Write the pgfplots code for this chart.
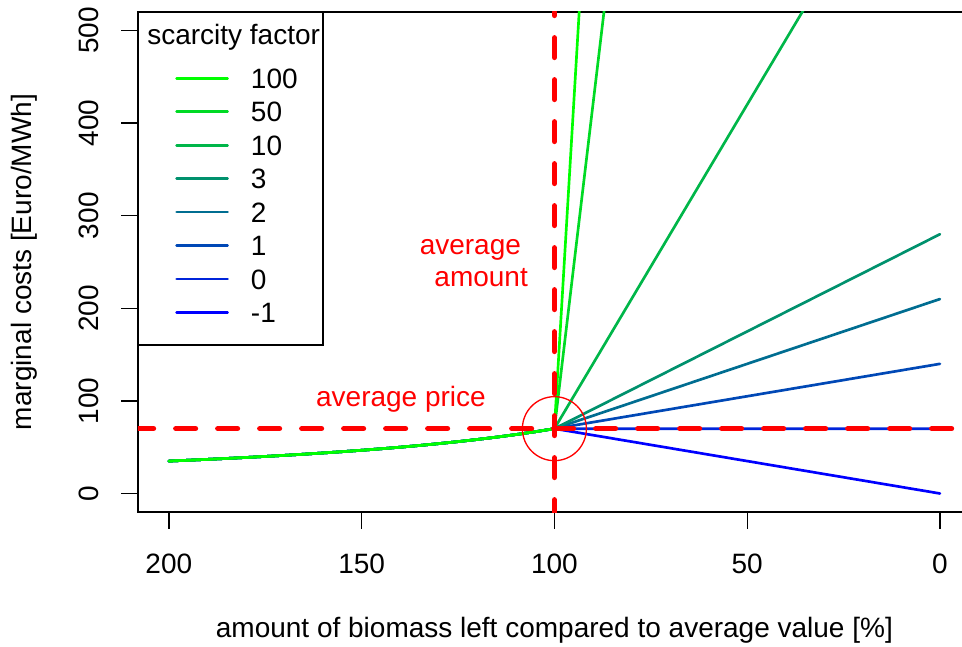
\documentclass[border=0pt]{standalone}
\usepackage{fontspec}
\setmainfont{Liberation Sans}
\usepackage{pgfplots}
\usepackage{pgfplotstable}
\pgfplotsset{compat=1.18}
\definecolor{c100}{RGB}{0,255,0}
\definecolor{c50}{RGB}{0,218,36}
\definecolor{c10}{RGB}{0,182,73}
\definecolor{c3}{RGB}{0,145,109}
\definecolor{c2}{RGB}{0,109,145}
\definecolor{c1}{RGB}{0,72,182}
\definecolor{c0}{RGB}{0,36,218}
\definecolor{cm1}{RGB}{0,0,255}
\newcommand{\fs}{\fontsize{21}{25.2}\selectfont}
\pgfplotstableread{
x   a100   a50    a10    a3     a2     a1     a0     am1
200 35     35     35     35     35     35     35     35
195 35.897 35.897 35.897 35.897 35.897 35.897 35.897 35.897
190 36.842 36.842 36.842 36.842 36.842 36.842 36.842 36.842
185 37.838 37.838 37.838 37.838 37.838 37.838 37.838 37.838
180 38.889 38.889 38.889 38.889 38.889 38.889 38.889 38.889
175 40     40     40     40     40     40     40     40
170 41.176 41.176 41.176 41.176 41.176 41.176 41.176 41.176
165 42.424 42.424 42.424 42.424 42.424 42.424 42.424 42.424
160 43.750 43.750 43.750 43.750 43.750 43.750 43.750 43.750
155 45.161 45.161 45.161 45.161 45.161 45.161 45.161 45.161
150 46.667 46.667 46.667 46.667 46.667 46.667 46.667 46.667
145 48.276 48.276 48.276 48.276 48.276 48.276 48.276 48.276
140 50     50     50     50     50     50     50     50
135 51.852 51.852 51.852 51.852 51.852 51.852 51.852 51.852
130 53.846 53.846 53.846 53.846 53.846 53.846 53.846 53.846
125 56     56     56     56     56     56     56     56
120 58.333 58.333 58.333 58.333 58.333 58.333 58.333 58.333
115 60.870 60.870 60.870 60.870 60.870 60.870 60.870 60.870
110 63.636 63.636 63.636 63.636 63.636 63.636 63.636 63.636
105 66.667 66.667 66.667 66.667 66.667 66.667 66.667 66.667
100 70     70     70     70     70     70     70     70
0   7070   3570   770    280    210    140    70     0
}\datatable
\begin{document}
\begin{tikzpicture}
\begin{axis}[
  at={(103.5pt,100.5pt)}, anchor=south west,
  scale only axis, width=624.6pt, height=375pt,
  xmin=-8, xmax=208, ymin=-20, ymax=520, x dir=reverse,
  xtick={0,50,100,150,200}, ytick={0,100,200,300,400,500},
  tick align=outside, major tick length=12.4pt,
  xtick pos=left, ytick pos=left,
  axis line style={line width=1pt},
  every tick/.style={black, line width=1pt},
  /pgf/number format/assume math mode=true,
  ticklabel style={font=\fs, inner sep=0pt, text height=15.04pt, text depth=0pt},
  xticklabel style={anchor=north},
  yticklabel style={rotate=90, anchor=south},
  xticklabel shift=18.4pt,
  yticklabel shift=16.9pt,
  xlabel={amount of biomass left compared to average value [\%]},
  ylabel={marginal costs [Euro/MWh]},
  every axis x label/.style={at={(axis description cs:0.5,0)}, anchor=base, yshift=-93.75pt, font=\fs},
  every axis y label/.style={at={(axis cs:235.5,250)}, rotate=90, anchor=base, font=\fs},
  legend cell align=left,
  legend style={at={(axis cs:198.4,459.5)}, anchor=north west, draw=none, fill=none,
    inner sep=0pt, row sep=10.05pt, column sep=16.5pt,
    cells={anchor=west},
    nodes={font=\fs, inner sep=0pt, text height=15.04pt, text depth=0pt, anchor=west}},
  legend image code/.code={\draw[#1, line cap=round] (0pt,0pt) -- (38.25pt,0pt);},
  reverse legend,
  every axis plot/.append style={line width=2pt, line cap=round, line join=round},
]
\addplot[cm1] table[x=x, y=am1] {\datatable};
\addlegendentry{-1}
\addplot[c0] table[x=x, y=a0] {\datatable};
\addlegendentry{0}
\addplot[c1] table[x=x, y=a1] {\datatable};
\addlegendentry{1}
\addplot[c2] table[x=x, y=a2] {\datatable};
\addlegendentry{2}
\addplot[c3] table[x=x, y=a3] {\datatable};
\addlegendentry{3}
\addplot[c10] table[x=x, y=a10] {\datatable};
\addlegendentry{10}
\addplot[c50] table[x=x, y=a50] {\datatable};
\addlegendentry{50}
\addplot[c100] table[x=x, y=a100] {\datatable};
\addlegendentry{100}
\addplot[red, line width=4pt, line cap=round, dash pattern=on 14.8pt off 16.7pt, forget plot] coordinates {(209.09,70) (-8,70)};
\addplot[red, line width=4pt, line cap=round, dash pattern=on 14.8pt off 16.7pt, forget plot] coordinates {(100,-28.1) (100,520)};
\addplot[red, only marks, mark=o, mark size=24pt, mark options={line width=1pt}, forget plot] coordinates {(100,70)};
\draw[line width=1pt] (axis cs:208,520) rectangle (axis cs:160,160.4);
\node[anchor=base west, font=\fs, inner sep=0pt] at (axis cs:205.66,484.4) {scarcity factor};
\node[red, anchor=base, font=\fs, inner sep=0pt] at (axis cs:139.8,93.7) {average price};
\node[red, anchor=base, font=\fs, inner sep=0pt] at (axis cs:121.8,257.6) {average};
\node[red, anchor=base, font=\fs, inner sep=0pt] at (axis cs:119.0,223.3) {amount};
\end{axis}
\pgfresetboundingbox
\path[use as bounding box] (0,0) rectangle (721.5pt,484.5pt);
\end{tikzpicture}
\end{document}
